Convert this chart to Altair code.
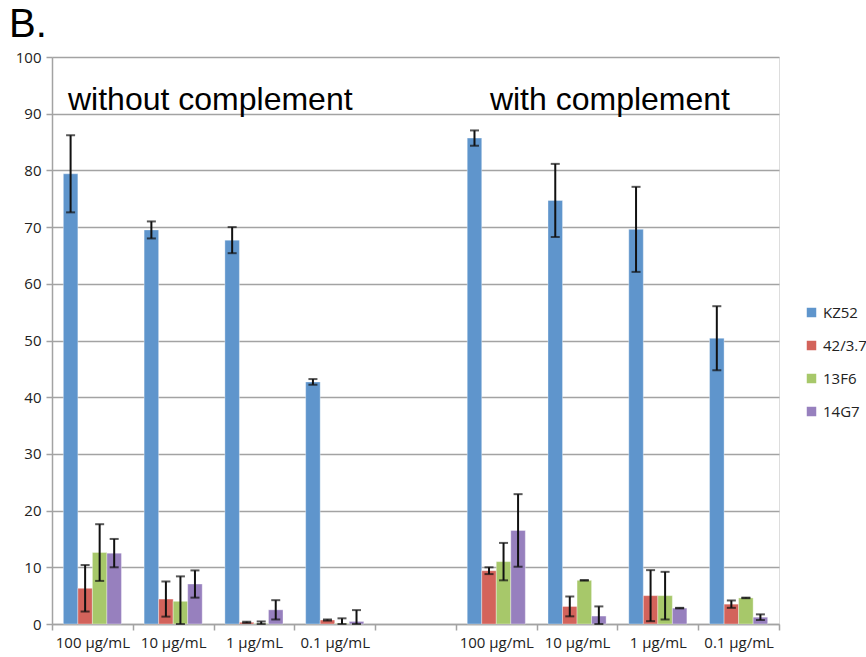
import altair as alt
import pandas as pd

# ---- data ----
concentrations = ["100 µg/mL", "10 µg/mL", "1 µg/mL", "0.1 µg/mL"]
series = ["KZ52", "42/3.7", "13F6", "14G7"]
colors = ["#5F95CC", "#D3635B", "#A7C86A", "#9780BE"]

# without complement (categories 0-3)
kz52_wo = [79.4, 69.5, 67.7, 42.7]
kz52_wo_err = [6.8, 1.5, 2.3, 0.5]
a42_wo = [6.3, 4.4, 0.3, 0.7]
a42_wo_err = [4.1, 3.1, 0.1, 0.1]
f13_wo = [12.6, 4.0, 0.1, 0.1]
f13_wo_err = [5.0, 4.4, 0.35, 0.9]
g14_wo = [12.5, 7.05, 2.5, 0.45]
g14_wo_err = [2.5, 2.4, 1.7, 2.0]

# with complement (categories 5-8)
kz52_w = [85.7, 74.7, 69.6, 50.4]
kz52_w_err = [1.35, 6.45, 7.5, 5.65]
a42_w = [9.4, 3.1, 5.0, 3.5]
a42_w_err = [0.6, 1.75, 4.5, 0.65]
f13_w = [11.0, 7.7, 5.0, 4.6]
f13_w_err = [3.3, 0.05, 4.2, 0.05]
g14_w = [16.5, 1.4, 2.8, 1.2]
g14_w_err = [6.4, 1.7, 0.05, 0.5]

group_labels = ["without complement", "with complement"]

# ---- build table ----
rows = []
blocks = [
    (0, [(kz52_wo, kz52_wo_err), (a42_wo, a42_wo_err), (f13_wo, f13_wo_err), (g14_wo, g14_wo_err)]),
    (5, [(kz52_w, kz52_w_err), (a42_w, a42_w_err), (f13_w, f13_w_err), (g14_w, g14_w_err)]),
]
for start, sers in blocks:
    for s_name, (vals, errs) in zip(series, sers):
        for i, (v, e) in enumerate(zip(vals, errs)):
            rows.append({"cat": str(start + i), "series": s_name, "value": v,
                         "lo": v - e, "hi": v + e})
df = pd.DataFrame(rows)

cat_domain = [str(i) for i in range(9)]
all_labels = concentrations + [""] + concentrations
label_expr = "[" + ",".join("'" + l + "'" for l in all_labels) + "][toNumber(datum.value)]"

GRID = "#A3A3A3"
AXFONT = "Open Sans"

x_enc = alt.X("cat:N", scale=alt.Scale(domain=cat_domain, paddingInner=0, paddingOuter=0),
              axis=alt.Axis(title=None, labelExpr=label_expr, labelAngle=0, tickBand="extent",
                            grid=False, domainColor=GRID, domainWidth=1.5, tickColor=GRID,
                            tickWidth=1.5, tickSize=6, labelFont=AXFONT, labelFontSize=15,
                            labelColor="#222", labelPadding=5))
xo_enc = alt.XOffset("series:N", scale=alt.Scale(domain=series, paddingInner=0, paddingOuter=0.78))
y_scale = alt.Scale(domain=[0, 100], clamp=True, nice=False)

bars = alt.Chart(df).mark_bar(stroke="#FFFFFF", strokeOpacity=0.35, strokeWidth=1).encode(
    x=x_enc,
    xOffset=xo_enc,
    y=alt.Y("value:Q", scale=y_scale,
            axis=alt.Axis(title=None, values=list(range(0, 101, 10)), grid=True, gridColor=GRID,
                          gridWidth=1.5, domainColor=GRID, domainWidth=1.5, tickColor=GRID,
                          tickWidth=1.5, tickSize=6, labelFont=AXFONT, labelFontSize=15,
                          labelColor="#222", labelPadding=5)),
    color=alt.Color("series:N", scale=alt.Scale(domain=series, range=colors),
                    legend=alt.Legend(title=None, orient="none", legendX=752, legendY=248,
                                      symbolType="square", symbolSize=90, symbolStrokeWidth=0,
                                      labelFont=AXFONT, labelFontSize=15, labelColor="#222",
                                      rowPadding=17, padding=0, labelOffset=4)),
)

err_rule = alt.Chart(df).mark_rule(color="#111", strokeWidth=2).encode(
    x=alt.X("cat:N", scale=alt.Scale(domain=cat_domain)),
    xOffset=xo_enc,
    y=alt.Y("lo:Q", scale=y_scale),
    y2="hi:Q",
)
cap_lo = alt.Chart(df).mark_tick(color="#111", thickness=2, size=9, orient="horizontal").encode(
    x=alt.X("cat:N", scale=alt.Scale(domain=cat_domain)),
    xOffset=xo_enc,
    y=alt.Y("lo:Q", scale=y_scale),
)
cap_hi = alt.Chart(df).mark_tick(color="#111", thickness=2, size=9, orient="horizontal").encode(
    x=alt.X("cat:N", scale=alt.Scale(domain=cat_domain)),
    xOffset=xo_enc,
    y=alt.Y("hi:Q", scale=y_scale),
)

ann_df = pd.DataFrame({"label": group_labels, "cat": ["0", "5"], "y": [90.6, 90.6]})
ann1 = alt.Chart(ann_df.iloc[[0]]).mark_text(font="Liberation Sans", fontSize=32, align="left",
                                            baseline="alphabetic", dx=16, color="#000").encode(
    x=alt.X("cat:N", scale=alt.Scale(domain=cat_domain), bandPosition=0),
    y=alt.Y("y:Q", scale=y_scale),
    text="label:N",
)
ann2 = alt.Chart(ann_df.iloc[[1]]).mark_text(font="Liberation Sans", fontSize=32, align="left",
                                            baseline="alphabetic", dx=34, color="#000").encode(
    x=alt.X("cat:N", scale=alt.Scale(domain=cat_domain), bandPosition=0),
    y=alt.Y("y:Q", scale=y_scale),
    text="label:N",
)

title_df = pd.DataFrame({"label": ["B."]})
title = alt.Chart(title_df).mark_text(font="Liberation Sans", fontSize=40, align="left",
                                      baseline="alphabetic", color="#000").encode(
    x=alt.value(-43), y=alt.value(-20), text="label:N")

chart = alt.layer(bars, err_rule, cap_lo, cap_hi, ann1, ann2, title).properties(
    width=727, height=567,
    autosize=alt.AutoSizeParams(type="none"),
    padding={"left": 52, "top": 57, "right": 87, "bottom": 33},
).configure_view(stroke=None).configure(background="white")

chart.save("out.html", embed_options={"renderer": "svg", "actions": False})
